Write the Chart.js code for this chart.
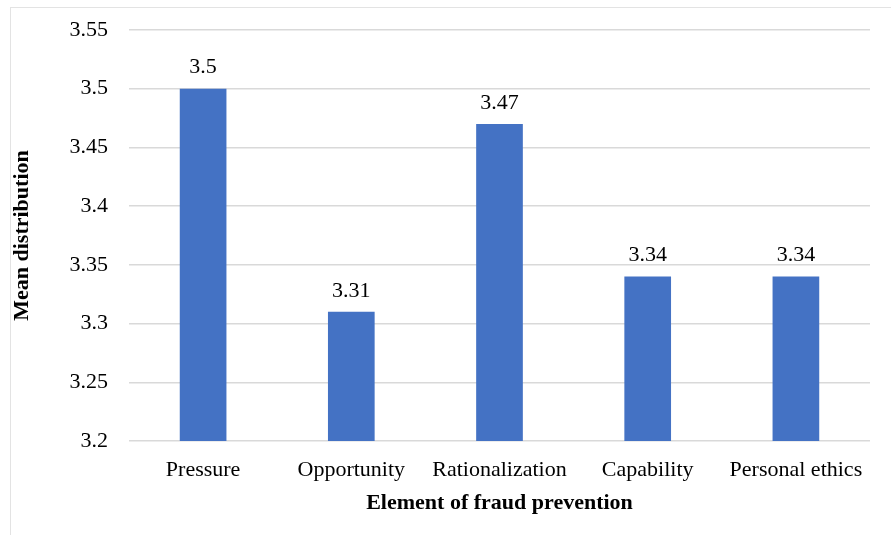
<!DOCTYPE html>
<html>
<head>
<meta charset="utf-8">
<script src="https://cdn.jsdelivr.net/npm/chart.js@4"></script>
<style>
  html, body { margin: 0; padding: 0; background: #fff; }
  #wrap { position: relative; width: 891px; height: 535px; }
  #frame { position: absolute; left: 10px; top: 7px; width: 900px; height: 560px; border: 1px solid #e3e3e3; box-sizing: border-box; }
  canvas { position: absolute; left: 0; top: 0; }
</style>
</head>
<body>
<div id="wrap">
  <div id="frame"></div>
  <canvas id="barChart" width="891" height="535"></canvas>
</div>
<script>
// Chart data
const categories = ['Pressure', 'Opportunity', 'Rationalization', 'Capability', 'Personal ethics'];
const meanValues = [3.5, 3.31, 3.47, 3.34, 3.34];
const yTicks = [3.2, 3.25, 3.3, 3.35, 3.4, 3.45, 3.5, 3.55];

const serif = "'Liberation Serif', 'Times New Roman', serif";

// Draw the value above each bar
const valueLabels = {
    id: 'valueLabels',
    afterDatasetsDraw(chart) {
        const ctx = chart.ctx;
        const meta = chart.getDatasetMeta(0);
        ctx.save();
        ctx.font = '22px ' + serif;
        ctx.fillStyle = '#000';
        ctx.textAlign = 'center';
        ctx.textBaseline = 'middle';
        meta.data.forEach((bar, i) => {
            ctx.fillText(String(meanValues[i]), bar.x, bar.y - 21);
        });
        ctx.restore();
    }
};

document.addEventListener('DOMContentLoaded', function() {
    const ctx = document.getElementById('barChart').getContext('2d');
    new Chart(ctx, {
        type: 'bar',
        data: {
            labels: categories,
            datasets: [{
                data: meanValues,
                backgroundColor: '#4472C4',
                categoryPercentage: 1,
                barPercentage: 0.315
            }]
        },
        options: {
            responsive: false,
            animation: false,
            layout: { padding: { left: 0, right: 21, top: 30, bottom: 0 } },
            plugins: {
                legend: { display: false },
                tooltip: { enabled: false }
            },
            scales: {
                x: {
                    grid: { display: false },
                    border: { display: false },
                    ticks: {
                        color: '#000',
                        padding: 8,
                        font: { family: serif, size: 22 }
                    },
                    title: {
                        display: true,
                        text: 'Element of fraud prevention',
                        color: '#000',
                        padding: { top: 0, bottom: 18 },
                        font: { family: serif, size: 22, weight: 'bold' }
                    },
                    afterFit(scale) { scale.height = 94; }
                },
                y: {
                    min: 3.2,
                    max: 3.55,
                    afterBuildTicks(scale) {
                        scale.ticks = yTicks.map(v => ({ value: v }));
                    },
                    grid: { color: '#d9d9d9', lineWidth: 1.5, drawTicks: false },
                    border: { display: false },
                    ticks: {
                        color: '#000',
                        padding: 21,
                        font: { family: serif, size: 22 },
                        callback: v => String(+v.toFixed(2))
                    },
                    title: {
                        display: true,
                        text: 'Mean distribution',
                        color: '#000',
                        padding: { top: 9, bottom: 0 },
                        font: { family: serif, size: 22, weight: 'bold' }
                    },
                    afterFit(scale) {
                        scale.width = 129;
                        scale.paddingTop = 0;
                        scale.paddingBottom = 0;
                    }
                }
            }
        },
        plugins: [valueLabels]
    });
});
</script>
</body>
</html>
